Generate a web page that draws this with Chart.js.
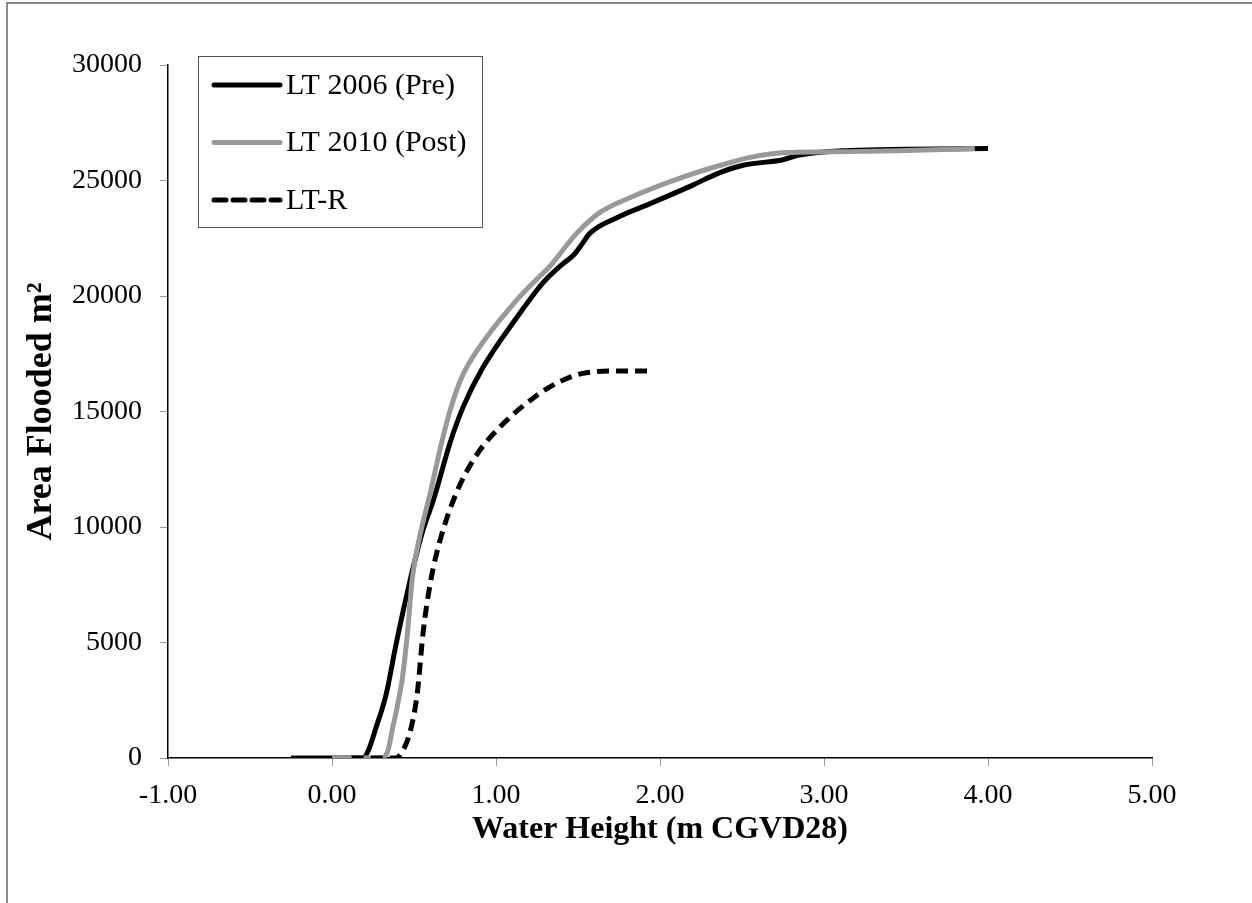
<!DOCTYPE html>
<html>
<head>
<meta charset="utf-8">
<script src="https://cdn.jsdelivr.net/npm/chart.js@4.4.1/dist/chart.umd.min.js"></script>
<style>
    body { margin: 0; background: #fff; }
    #wrap { position: relative; width: 1252px; height: 903px; }
    #frame { position: absolute; left: 6px; top: 2px; right: 0; bottom: 0; border-left: 2px solid #8c8c8c; border-top: 2px solid #8c8c8c; }
    #main-chart { position: absolute; left: 0; top: 0; }
</style>
</head>
<body>
<div id="wrap">
    <div id="frame"></div>
    <canvas id="main-chart" width="1252" height="903"></canvas>
</div>
<script>
// series labels
const series_names = ['LT 2006 (Pre)', 'LT 2010 (Post)', 'LT-R'];

// LT 2006 (Pre)
const pre_x = [-0.25, 0.0, 0.15, 0.19, 0.22, 0.27, 0.33, 0.39, 0.47, 0.55, 0.62, 0.72, 0.80, 0.92, 1.13, 1.29, 1.40, 1.47, 1.53, 1.57, 1.74, 1.94, 2.20, 2.35, 2.50, 2.75, 2.85, 3.16, 3.50, 4.00];
const pre_y = [0, 0, 0, 0, 300, 1350, 2750, 4900, 7500, 9750, 11200, 13650, 15200, 16900, 19100, 20600, 21350, 21750, 22300, 22700, 23400, 24000, 24800, 25300, 25650, 25900, 26100, 26300, 26350, 26380];

// LT 2010 (Post)
const post_x = [0.0, 0.30, 0.34, 0.37, 0.40, 0.43, 0.46, 0.49, 0.54, 0.60, 0.66, 0.72, 0.78, 0.82, 0.92, 1.13, 1.23, 1.33, 1.42, 1.49, 1.63, 1.83, 2.14, 2.44, 2.55, 2.75, 3.16, 3.50, 3.92];
const post_y = [0, 0, 300, 1300, 2300, 3500, 5400, 7800, 9750, 11500, 13400, 15050, 16300, 16900, 18000, 19850, 20600, 21300, 22100, 22700, 23600, 24300, 25150, 25800, 26000, 26200, 26250, 26300, 26380];

// LT-R
const ltr_x = [0.12, 0.39, 0.43, 0.475, 0.52, 0.555, 0.60, 0.66, 0.76, 0.88, 1.02, 1.23, 1.39, 1.53, 1.74, 1.95];
const ltr_y = [0, 0, 300, 1100, 2800, 5400, 7600, 9450, 11500, 13100, 14300, 15600, 16300, 16650, 16750, 16750];

const x_ticks = [-1, 0, 1, 2, 3, 4, 5];
const y_ticks = [0, 5000, 10000, 15000, 20000, 25000, 30000];

const FONT = "'Liberation Serif', 'Times New Roman', serif";

const pairs = (xs, ys) => xs.map((x, i) => ({ x: x, y: ys[i] }));

const data = {
    datasets: [{
        label: series_names[0],
        data: pairs(pre_x, pre_y),
        borderColor: '#000000',
        borderWidth: 5,
        order: 3,
    }, {
        label: series_names[1],
        data: pairs(post_x, post_y),
        borderColor: '#999999',
        borderWidth: 5,
        order: 2,
    }, {
        label: series_names[2],
        data: pairs(ltr_x, ltr_y),
        borderColor: '#000000',
        borderWidth: 5,
        borderDash: [12, 7],
        order: 1,
    }],
};

// legend box drawn inside the plot, like the original
const boxLegend = {
    id: 'boxLegend',
    afterDraw(chart) {
        const ctx = chart.ctx;
        ctx.save();
        ctx.strokeStyle = '#555';
        ctx.lineWidth = 1;
        ctx.strokeRect(198.5, 56.5, 284, 171);
        chart.data.datasets.forEach((ds, i) => {
            const y = 85 + i * 57.5;
            ctx.beginPath();
            ctx.strokeStyle = ds.borderColor;
            ctx.lineWidth = ds.borderWidth;
            ctx.setLineDash(ds.borderDash || []);
            ctx.lineCap = 'round';
            ctx.moveTo(214, y);
            ctx.lineTo(280, y);
            ctx.stroke();
            ctx.setLineDash([]);
            ctx.fillStyle = '#000';
            ctx.font = '30px ' + FONT;
            ctx.textBaseline = 'middle';
            ctx.fillText(ds.label, 286, y + 1);
        });
        ctx.restore();
    }
};

const config = {
    type: 'line',
    data: data,
    options: {
        responsive: false,
        animation: false,
        elements: {
            point: { radius: 0 },
            line: { cubicInterpolationMode: 'monotone', fill: false },
        },
        layout: { padding: { left: 16, right: 100, top: 65, bottom: 50 } },
        plugins: {
            legend: { display: false },
            tooltip: { enabled: false },
        },
        scales: {
            x: {
                type: 'linear',
                min: -1,
                max: 5,
                afterBuildTicks: (scale) => { scale.ticks = x_ticks.map(v => ({ value: v })); },
                afterFit: (scale) => { scale.height = 95; },
                grid: { drawOnChartArea: false, drawTicks: true, tickLength: 8, color: '#999' },
                border: { color: '#000', width: 1.5 },
                ticks: {
                    color: '#000',
                    padding: 13,
                    font: { family: FONT, size: 28 },
                    callback: (v) => Number(v).toFixed(2),
                },
                title: {
                    display: true,
                    text: 'Water Height (m CGVD28)',
                    color: '#000',
                    font: { family: FONT, size: 32, weight: 'bold' },
                    padding: { top: 0, bottom: 4 },
                },
            },
            y: {
                type: 'linear',
                min: 0,
                max: 30000,
                afterBuildTicks: (scale) => { scale.ticks = y_ticks.map(v => ({ value: v })); },
                afterFit: (scale) => { scale.width = 152; },
                grid: { drawOnChartArea: false, drawTicks: true, tickLength: 8, color: '#999' },
                border: { color: '#000', width: 1.5 },
                ticks: {
                    color: '#000',
                    padding: 18,
                    font: { family: FONT, size: 28 },
                    callback: (v) => String(v),
                },
                title: {
                    display: true,
                    text: 'Area Flooded m²',
                    color: '#000',
                    font: { family: FONT, size: 36, weight: 'bold' },
                    padding: { top: 4, bottom: 0 },
                },
            },
        },
    },
    plugins: [boxLegend],
};

const chart = new Chart(document.getElementById('main-chart'), config);
</script>
</body>
</html>
